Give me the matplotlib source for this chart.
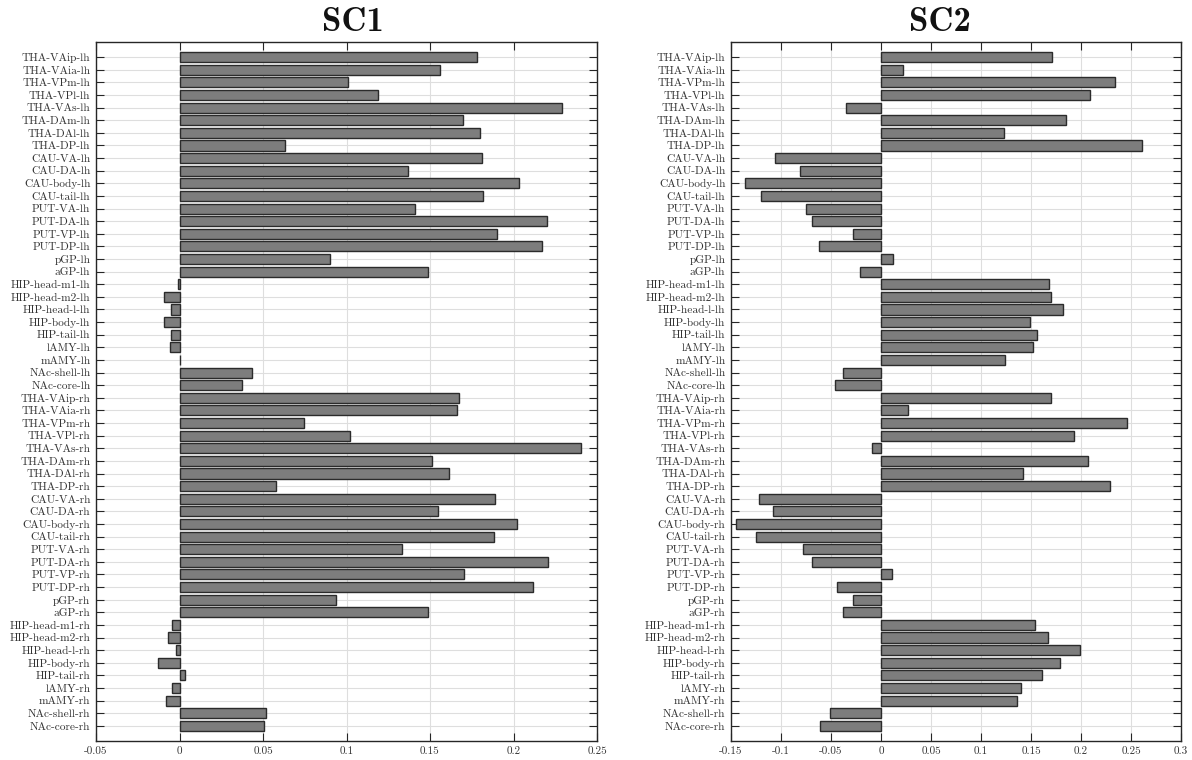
"""Two-panel horizontal bar chart of SC1 / SC2 loadings per region."""
import matplotlib
matplotlib.use("Agg")
import matplotlib.pyplot as plt
import numpy as np

plt.rcParams["font.family"] = ["cmr10", "DejaVu Serif"]
plt.rcParams["axes.unicode_minus"] = False

regions = [
    "THA-VAip", "THA-VAia", "THA-VPm", "THA-VPl", "THA-VAs", "THA-DAm", "THA-DAl", "THA-DP",
    "CAU-VA", "CAU-DA", "CAU-body", "CAU-tail",
    "PUT-VA", "PUT-DA", "PUT-VP", "PUT-DP",
    "pGP", "aGP",
    "HIP-head-m1", "HIP-head-m2", "HIP-head-l", "HIP-body", "HIP-tail",
    "lAMY", "mAMY", "NAc-shell", "NAc-core",
]
labels = [r + "-lh" for r in regions] + [r + "-rh" for r in regions]

sc1 = [
    0.178, 0.156, 0.101, 0.119, 0.229, 0.170, 0.180, 0.063,
    0.181, 0.137, 0.203, 0.182,
    0.141, 0.220, 0.190, 0.217,
    0.090, 0.149,
    -0.001, -0.0095, -0.005, -0.0094, -0.0048,
    -0.0056, 0.0005, 0.0433, 0.0375,
    0.1675, 0.166, 0.0743, 0.1022, 0.2407, 0.151, 0.1613, 0.0577,
    0.1892, 0.1545, 0.2018, 0.1886,
    0.1335, 0.2206, 0.1701, 0.2114,
    0.094, 0.1489,
    -0.0042, -0.0066, -0.0018, -0.013, 0.0032,
    -0.0046, -0.0082, 0.0515, 0.0503,
]

sc2 = [
    0.171, 0.0215, 0.2337, 0.209, -0.0353, 0.185, 0.123, 0.261,
    -0.1063, -0.081, -0.136, -0.1197,
    -0.0747, -0.069, -0.0283, -0.0617,
    0.012, -0.0213,
    0.168, 0.1697, 0.182, 0.1493, 0.156,
    0.1523, 0.124, -0.0377, -0.0463,
    0.1703, 0.0267, 0.2463, 0.1933, -0.0087, 0.2073, 0.142, 0.2293,
    -0.1223, -0.108, -0.1447, -0.125,
    -0.0783, -0.0687, 0.0113, -0.044,
    -0.0283, -0.0383,
    0.1543, 0.1667, 0.1993, 0.1787, 0.1613,
    0.1403, 0.1357, -0.0507, -0.0607,
]

sc1_ticks = [-0.05, 0, 0.05, 0.1, 0.15, 0.2, 0.25]
sc2_ticks = [-0.15, -0.1, -0.05, 0, 0.05, 0.1, 0.15, 0.2, 0.25, 0.3]

W, H = 1192, 760
fig = plt.figure(figsize=(W / 100, H / 100), dpi=100)
ax1 = fig.add_axes([96 / W, 19 / H, 501 / W, 699 / H])
ax2 = fig.add_axes([731 / W, 19 / H, 450 / W, 699 / H])

y = np.arange(len(labels))
panels = [
    (ax1, sc1, sc1_ticks, "SC1", 0.513),
    (ax2, sc2, sc2_ticks, "SC2", 0.464),
]
for ax, vals, ticks, title, tx in panels:
    ax.barh(y, vals, height=0.8, color="#7d7d7d", edgecolor="#2b2b2b", linewidth=1.0, zorder=3)
    ax.set_xlim(ticks[0], ticks[-1])
    ax.set_ylim(54.2, -1.2)
    ax.set_xticks(ticks)
    ax.set_xticklabels([f"{t:g}" for t in ticks], fontsize=8, color="#333333")
    ax.set_yticks(y)
    ax.set_yticklabels(labels, fontsize=8.2, color="#333333")
    ax.tick_params(direction="in", top=True, right=True, length=6, width=0.8, color="#262626", pad=4)
    ax.grid(True, color="#dedede", linewidth=0.8, zorder=0)
    ax.set_axisbelow(True)
    for s in ax.spines.values():
        s.set_color("#262626")
        s.set_linewidth(1.0)
    ax.set_title(title, x=tx, fontsize=25, family=["cmb10", "DejaVu Serif"], pad=8, color="#111111")

fig.savefig("out.png", dpi=100, facecolor="white")
plt.close(fig)
